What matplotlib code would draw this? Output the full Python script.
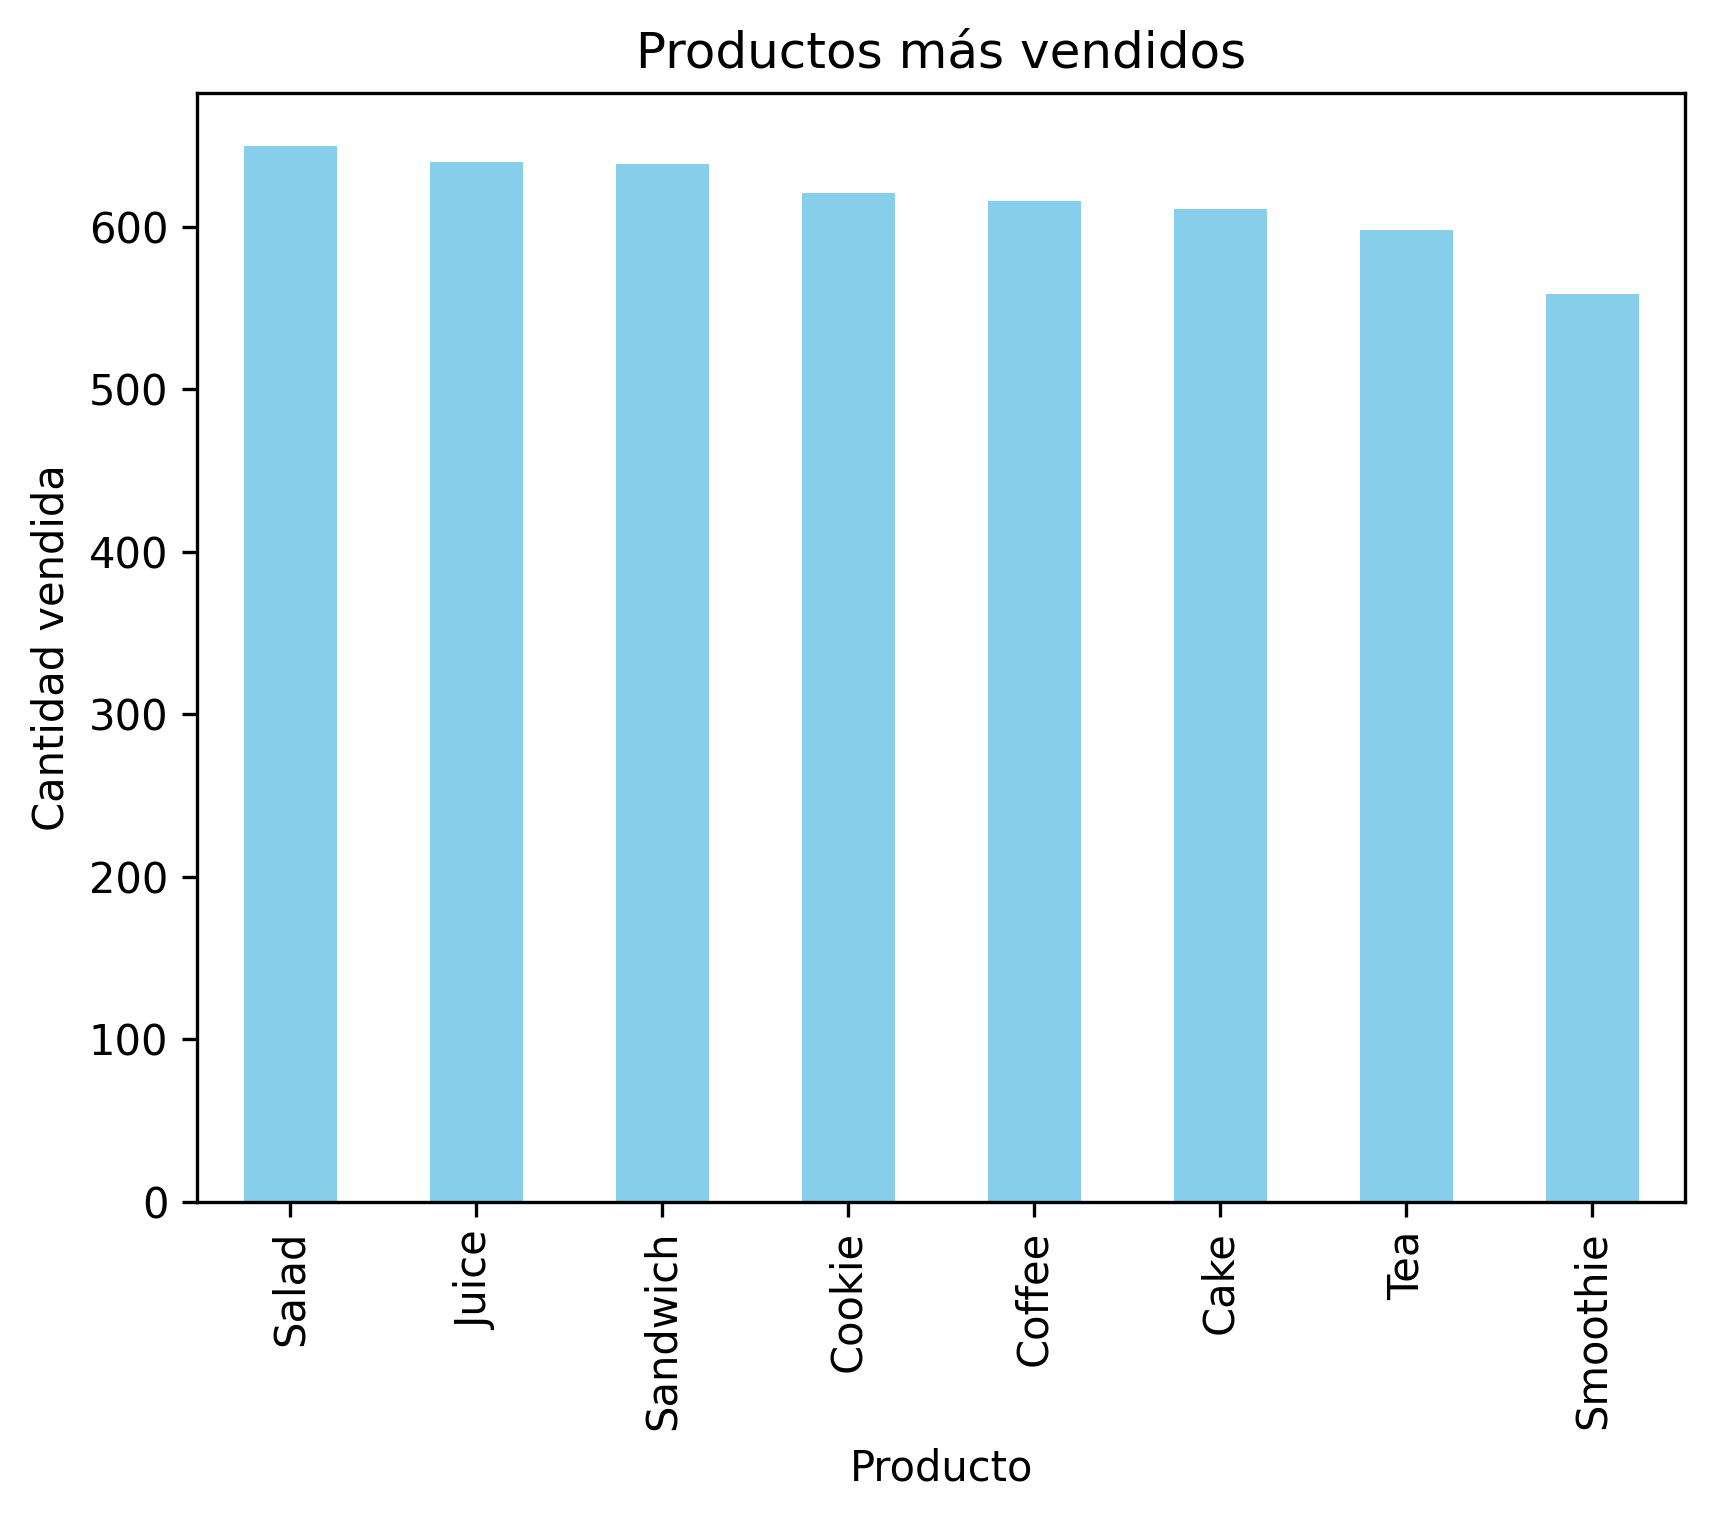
import matplotlib
matplotlib.use("Agg")
import matplotlib.pyplot as plt

productos = ["Salad", "Juice", "Sandwich", "Cookie", "Coffee", "Cake", "Tea", "Smoothie"]
cantidades = [650, 640, 639, 621, 616, 611, 598, 559]

fig, ax = plt.subplots(figsize=(6.4, 4.8))
ax.bar(range(len(productos)), cantidades, width=0.5, color="skyblue")
ax.set_xticks(range(len(productos)))
ax.set_xticklabels(productos, rotation=90)
ax.set_xlim(-0.5, len(productos) - 0.5)
ax.set_title("Productos más vendidos")
ax.set_xlabel("Producto")
ax.set_ylabel("Cantidad vendida")
plt.savefig("out.png", dpi=300, bbox_inches="tight")
plt.close()
